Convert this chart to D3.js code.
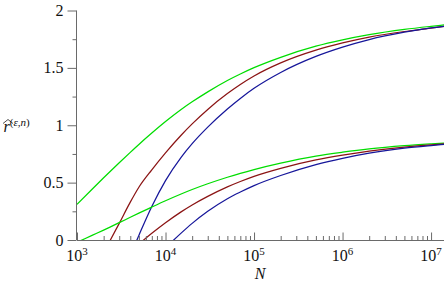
<!DOCTYPE html>
<html>
<head>
<meta charset="utf-8">
<script src="https://cdn.jsdelivr.net/npm/d3@7"></script>
<style>
  html, body { margin: 0; padding: 0; background: #fff; }
  svg { display: block; }
  text { font-family: "Liberation Serif", "DejaVu Serif", serif; fill: #111; }
</style>
</head>
<body>
<svg id="chart" width="446" height="282"></svg>
<script>
// ---- data ----
const Nvals = [1000, 1500, 2000, 3000, 4000, 5000, 7000, 10000, 15000, 20000, 30000,
               50000, 70000, 100000, 200000, 500000, 1e6, 2e6, 5e6, 1e7, 1.4e7];
const upperGreen = [0.31, 0.447, 0.542, 0.673, 0.764, 0.833, 0.932, 1.032, 1.137, 1.204, 1.291,
                    1.39, 1.447, 1.502, 1.592, 1.689, 1.744, 1.789, 1.835, 1.862, 1.874];
const upperRed   = [-0.54, -0.29, -0.11, 0.145, 0.33, 0.46, 0.612, 0.76, 0.913, 1.012, 1.138,
                    1.276, 1.355, 1.429, 1.543, 1.654, 1.717, 1.768, 1.817, 1.846, 1.862];
const upperBlue  = [-1.2, -0.888, -0.668, -0.356, -0.134, 0.04, 0.292, 0.518, 0.721, 0.84, 0.984,
                    1.142, 1.234, 1.322, 1.46, 1.60, 1.681, 1.747, 1.811, 1.848, 1.862];
const lowerGreen = [-0.02, 0.042, 0.086, 0.151, 0.198, 0.234, 0.287, 0.342, 0.401, 0.44, 0.49,
                    0.547, 0.581, 0.614, 0.67, 0.731, 0.765, 0.794, 0.822, 0.838, 0.845];
const lowerRed   = [-0.513, -0.393, -0.308, -0.188, -0.102, -0.036, 0.058, 0.15, 0.245, 0.305, 0.38,
                    0.463, 0.51, 0.555, 0.625, 0.698, 0.74, 0.775, 0.81, 0.83, 0.838];
const lowerBlue  = [-0.79, -0.665, -0.575, -0.447, -0.356, -0.285, -0.18, -0.068, 0.06, 0.145, 0.25,
                    0.36, 0.418, 0.474, 0.562, 0.657, 0.712, 0.757, 0.80, 0.823, 0.833];
const seriesNames  = ["upperGreen", "upperRed", "upperBlue", "lowerGreen", "lowerRed", "lowerBlue"];
const seriesValues = [upperGreen, upperRed, upperBlue, lowerGreen, lowerRed, lowerBlue];
const seriesColors = ["#00dd00", "#8b1414", "#16169a", "#00dd00", "#8b1414", "#16169a"];

const xMajorTicks = [1e3, 1e4, 1e5, 1e6, 1e7];
const xTickExponents = ["3", "4", "5", "6", "7"];
const yMajorTicks = [0, 0.5, 1, 1.5, 2];
const yTickLabels = ["0", "0.5", "1", "1.5", "2"];
const yMinorTicks = [0.25, 0.75, 1.25, 1.75];

// ---- layout ----
const svg = d3.select("#chart");
const x = d3.scaleLog().domain([1e3, 1.4e7]).range([77, 444]);
const y = d3.scaleLinear().domain([0, 2]).range([240, 10.5]);

const xMinorTicks = [];
for (let e = 3; e <= 7; e++) for (let m = 2; m <= 9; m++) {
  const v = m * Math.pow(10, e);
  if (v <= 1.4e7) xMinorTicks.push(v);
}

const axisColor = "#6a6a6a";

// clip
svg.append("defs").append("clipPath").attr("id", "plotclip")
  .append("rect").attr("x", 77).attr("y", 0).attr("width", 369).attr("height", 240);

// lines
const line = d3.line()
  .x((d, i) => x(Nvals[i]))
  .y(d => y(d))
  .curve(d3.curveMonotoneX);

const g = svg.append("g").attr("clip-path", "url(#plotclip)");
seriesValues.forEach((vals, k) => {
  g.append("path")
    .datum(vals)
    .attr("class", seriesNames[k])
    .attr("fill", "none")
    .attr("stroke", seriesColors[k])
    .attr("stroke-width", 1.25)
    .attr("d", line);
});

// y axis
const yAxisMajor = svg.append("g").attr("transform", "translate(76.5,0)")
  .call(d3.axisLeft(y).tickValues(yMajorTicks).tickSize(9).tickFormat(""));
const yAxisMinor = svg.append("g").attr("transform", "translate(76.5,0)")
  .call(d3.axisLeft(y).tickValues(yMinorTicks).tickSize(4).tickFormat(""));
yAxisMinor.select(".domain").remove();
[yAxisMajor, yAxisMinor].forEach(a => {
  a.selectAll("path, line").attr("stroke", axisColor);
});
yAxisMajor.select(".domain").attr("d", `M0,${y(2)}V${y(0)}`);

svg.append("g").selectAll("text").data(yMajorTicks).join("text")
  .attr("x", 63.5)
  .attr("y", d => y(d))
  .attr("dy", "0.35em")
  .attr("text-anchor", "end")
  .attr("font-size", 16)
  .text((d, i) => yTickLabels[i]);

// x axis (ticks pointing inward)
const xAxisMajor = svg.append("g").attr("transform", "translate(0,240.5)")
  .call(d3.axisBottom(x).tickValues(xMajorTicks).tickSizeInner(-8).tickSizeOuter(0).tickFormat(""));
const xAxisMinor = svg.append("g").attr("transform", "translate(0,240.5)")
  .call(d3.axisBottom(x).tickValues(xMinorTicks).tickSizeInner(-4.5).tickSizeOuter(0).tickFormat(""));
xAxisMinor.select(".domain").remove();
[xAxisMajor, xAxisMinor].forEach(a => {
  a.selectAll("path, line").attr("stroke", axisColor);
});
xAxisMajor.select(".domain").attr("d", `M${x(1e3)},0H${x(1.4e7)}`);

const xl = svg.append("g").selectAll("text").data(xMajorTicks).join("text")
  .attr("x", d => x(d))
  .attr("y", 260.5)
  .attr("text-anchor", "middle")
  .attr("font-size", 16);
xl.append("tspan").text("10");
xl.append("tspan").attr("dy", -6).attr("font-size", 11).text((d, i) => xTickExponents[i]);

// axis titles
svg.append("text")
  .attr("x", 260).attr("y", 278.5)
  .attr("text-anchor", "middle")
  .attr("font-size", 16)
  .attr("font-style", "italic")
  .text("N");

// y title: wide-hat r with superscript (ε,n)
svg.append("path")
  .attr("d", "M3,123.5L8,119.5L13,123.5")
  .attr("fill", "none").attr("stroke", "#222").attr("stroke-width", 0.8);
const yt = svg.append("text")
  .attr("x", 3.5).attr("y", 132)
  .attr("font-size", 16);
yt.append("tspan").attr("font-style", "italic").text("r");
yt.append("tspan").attr("dy", -6).attr("font-size", 11).text("(");
yt.append("tspan").attr("font-size", 11).attr("font-style", "italic").text("ε");
yt.append("tspan").attr("font-size", 11).text(",");
yt.append("tspan").attr("font-size", 11).attr("font-style", "italic").text("n");
yt.append("tspan").attr("font-size", 11).text(")");
</script>
</body>
</html>
